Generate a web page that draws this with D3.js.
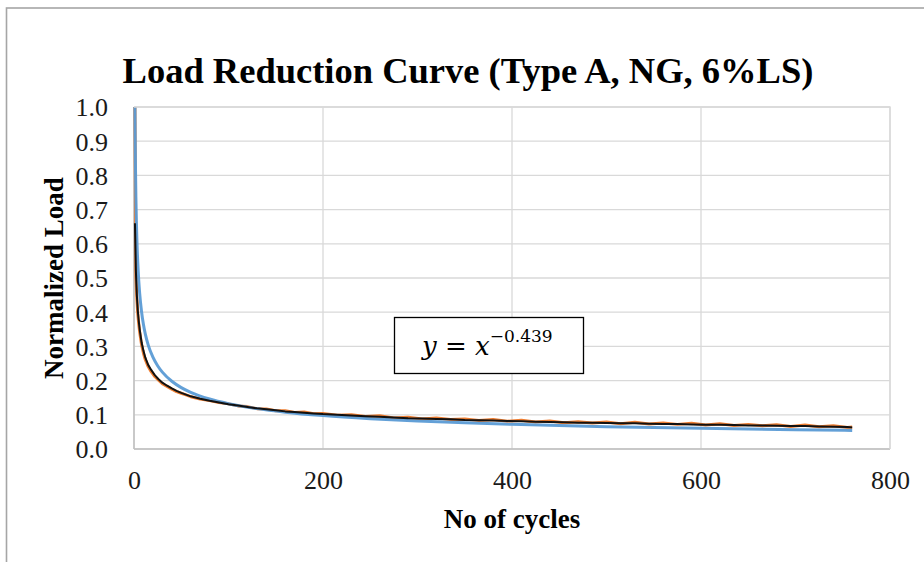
<!DOCTYPE html>
<html>
<head>
<meta charset="utf-8">
<script src="https://cdn.jsdelivr.net/npm/d3@7"></script>
<style>
  html, body { margin: 0; padding: 0; background: #fff; }
  svg { display: block; }
</style>
</head>
<body>
<svg id="chart" width="924" height="562"></svg>
<script>
// Cycle numbers at which the measured and averaged loads are sampled
const cycles = [1,2,3,4,5,6,8,10,12,15,
  18,22,26,30,35,40,45,50,55,60,
  70,80,90,100,110,120,130,140,150,160,
  170,180,190,200,215,230,245,260,275,290,
  305,320,335,350,365,380,395,410,425,440,
  455,470,485,500,515,530,545,560,575,590,
  605,620,635,650,665,680,695,710,725,740,
  755,760];

// Measured normalized load (raw readings)
const measuredLoad = [1.000,0.505,0.440,0.395,0.366,0.342,0.305,0.280,0.261,0.241,
  0.227,0.212,0.201,0.191,0.183,0.175,0.168,0.163,0.158,0.153,
  0.146,0.142,0.136,0.132,0.126,0.124,0.118,0.117,0.112,0.112,
  0.107,0.108,0.103,0.104,0.099,0.100,0.095,0.097,0.091,0.093,
  0.088,0.091,0.086,0.088,0.083,0.086,0.081,0.084,0.079,0.082,
  0.077,0.080,0.076,0.079,0.074,0.078,0.073,0.076,0.072,0.075,
  0.070,0.074,0.069,0.072,0.068,0.071,0.066,0.070,0.065,0.068,
  0.063,0.064];

// Smoothed normalized load
const averagedLoad = [0.660,0.520,0.450,0.405,0.375,0.350,0.312,0.287,0.267,0.246,
  0.232,0.216,0.204,0.194,0.185,0.177,0.170,0.164,0.159,0.154,
  0.147,0.141,0.136,0.131,0.127,0.123,0.119,0.116,0.113,0.110,
  0.108,0.106,0.104,0.102,0.100,0.098,0.096,0.094,0.092,0.090,
  0.089,0.088,0.087,0.085,0.084,0.083,0.082,0.081,0.080,0.079,
  0.078,0.077,0.077,0.076,0.075,0.075,0.074,0.073,0.073,0.072,
  0.071,0.071,0.070,0.069,0.069,0.068,0.067,0.067,0.066,0.065,
  0.064,0.063];

// Power-law trendline y = x^b
const trendExponent = -0.439;
const trendCycles = [1,1.2,1.5,2,2.5,3,4,5,6,8,10,12,15,20,25,30,40,50,60,80,100,
  130,160,200,250,300,350,400,450,500,550,600,650,700,760];

const xTicks = [0,200,400,600,800];
const yTicks = [0,0.1,0.2,0.3,0.4,0.5,0.6,0.7,0.8,0.9,1.0];

const titleText = "Load Reduction Curve (Type A, NG, 6%LS)";
const xLabel = "No of cycles";
const yLabel = "Normalized Load";

const svg = d3.select("#chart");
const serif = "'Liberation Serif', 'Times New Roman', serif";

// Chart frame
svg.append("rect")
  .attr("x", 6.5).attr("y", 8).attr("width", 940).attr("height", 580)
  .attr("fill", "#fff").attr("stroke", "#a6a6a6").attr("stroke-width", 1.6);

const plot = { left: 134, top: 107, right: 890, bottom: 449 };

const x = d3.scaleLinear().domain([0, 800]).range([plot.left, plot.right]);
const y = d3.scaleLinear().domain([0, 1]).range([plot.bottom, plot.top]);

// Gridlines
svg.append("g").selectAll("line.h").data(yTicks).join("line")
  .attr("x1", plot.left).attr("x2", plot.right)
  .attr("y1", d => y(d)).attr("y2", d => y(d))
  .attr("stroke", "#d9d9d9").attr("stroke-width", 1.3);
svg.append("g").selectAll("line.v").data(xTicks).join("line")
  .attr("x1", d => x(d)).attr("x2", d => x(d))
  .attr("y1", plot.top).attr("y2", plot.bottom)
  .attr("stroke", "#d9d9d9").attr("stroke-width", 1.3);

// Axis lines
svg.append("line").attr("x1", plot.left).attr("x2", plot.right)
  .attr("y1", plot.bottom).attr("y2", plot.bottom)
  .attr("stroke", "#bfbfbf").attr("stroke-width", 1.5);
svg.append("line").attr("x1", plot.left).attr("x2", plot.left)
  .attr("y1", plot.top).attr("y2", plot.bottom)
  .attr("stroke", "#bfbfbf").attr("stroke-width", 1.5);

// Tick labels via d3 axes
const yAxis = svg.append("g")
  .attr("transform", `translate(${plot.left},0)`)
  .call(d3.axisLeft(y).tickValues(yTicks).tickFormat(d3.format(".1f")).tickSize(0).tickPadding(26));
yAxis.select(".domain").remove();
yAxis.selectAll("text").attr("font-family", serif).attr("font-size", 26).attr("fill", "#1a1a1a")
  .attr("dy", "0.34em");

const xAxis = svg.append("g")
  .attr("transform", `translate(0,${plot.bottom})`)
  .call(d3.axisBottom(x).tickValues(xTicks).tickFormat(d3.format("d")).tickSize(0).tickPadding(22));
xAxis.select(".domain").remove();
xAxis.selectAll("text").attr("font-family", serif).attr("font-size", 26).attr("fill", "#1a1a1a");

// Series
const trendPoints = trendCycles.map(c => [c, Math.pow(c, trendExponent)]);
const measuredPoints = cycles.map((c, i) => [c, measuredLoad[i]]);
const averagedPoints = cycles.map((c, i) => [c, averagedLoad[i]]);

const linear = d3.line().x(d => x(d[0])).y(d => y(d[1])).curve(d3.curveLinear);
const smooth = d3.line().x(d => x(d[0])).y(d => y(d[1])).curve(d3.curveMonotoneX);

svg.append("path").datum(measuredPoints).attr("d", linear)
  .attr("fill", "none").attr("stroke", "#ed7d31").attr("stroke-width", 3).attr("stroke-linejoin", "round");
svg.append("path").datum(trendPoints).attr("d", smooth)
  .attr("fill", "none").attr("stroke", "#5b9bd5").attr("stroke-width", 3).attr("stroke-linejoin", "round").attr("opacity", 0.95);
svg.append("path").datum(averagedPoints).attr("d", linear)
  .attr("fill", "none").attr("stroke", "#111").attr("stroke-width", 2).attr("stroke-linejoin", "round");

// Plot border on the top/right
svg.append("path")
  .attr("d", `M${plot.left},${plot.top}H${plot.right}V${plot.bottom}`)
  .attr("fill", "none").attr("stroke", "#d9d9d9").attr("stroke-width", 1.3);

// Title
svg.append("text").attr("x", 468).attr("y", 83).attr("text-anchor", "middle")
  .attr("font-family", serif).attr("font-weight", "bold").attr("font-size", 36.5)
  .attr("fill", "#000").text(titleText);

// Axis titles
svg.append("text").attr("x", 512).attr("y", 528).attr("text-anchor", "middle")
  .attr("font-family", serif).attr("font-weight", "bold").attr("font-size", 27)
  .attr("fill", "#000").text(xLabel);
svg.append("text").attr("transform", "translate(63,278) rotate(-90)").attr("text-anchor", "middle")
  .attr("font-family", serif).attr("font-weight", "bold").attr("font-size", 27)
  .attr("fill", "#000").text(yLabel);

// Equation box
svg.append("rect").attr("x", 394.5).attr("y", 317.5).attr("width", 189).attr("height", 56)
  .attr("fill", "#fff").attr("stroke", "#000").attr("stroke-width", 1.3);
const eq = svg.append("text").attr("x", 422).attr("y", 355)
  .attr("font-family", "'DejaVu Serif', serif").attr("font-size", 26).attr("fill", "#000");
eq.append("tspan").attr("font-style", "italic").text("y");
eq.append("tspan").text(" = ");
eq.append("tspan").attr("font-style", "italic").text("x");
eq.append("tspan").attr("dy", -13).attr("font-size", 17).text("\u22120.439");
</script>
</body>
</html>
